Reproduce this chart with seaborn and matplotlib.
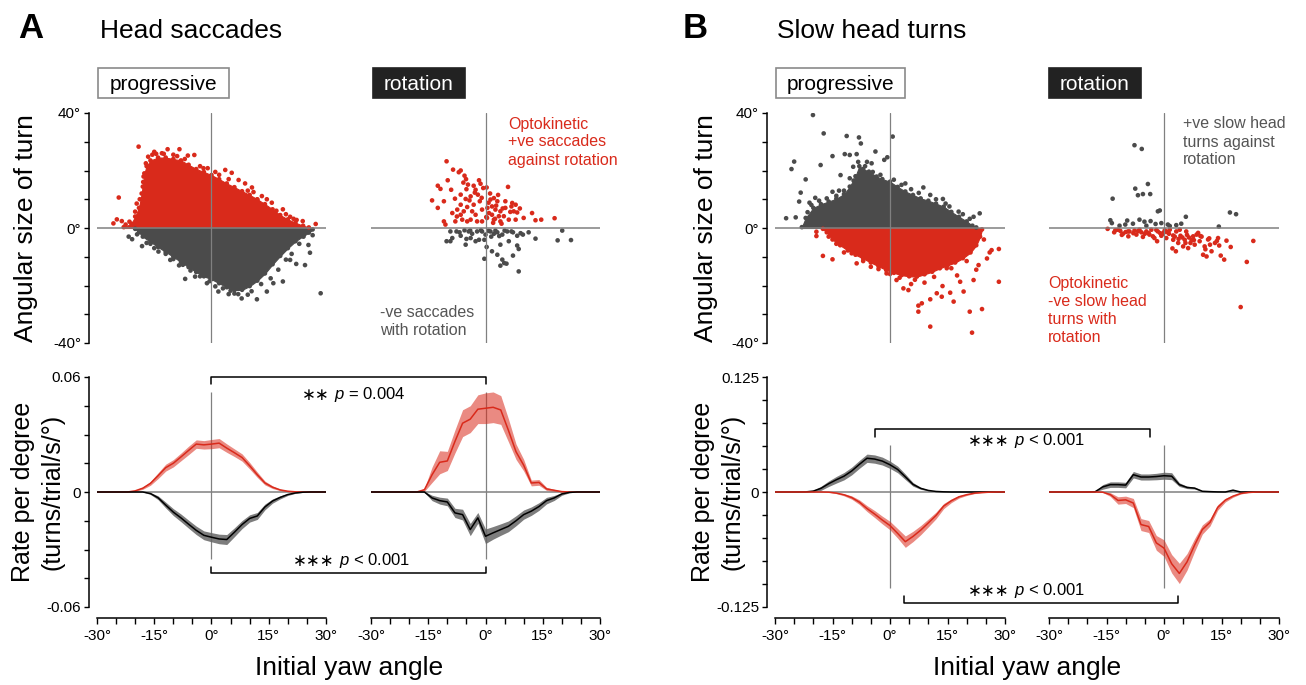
import numpy as np
import pandas as pd
import seaborn as sns
import matplotlib.pyplot as plt
from matplotlib.lines import Line2D
from matplotlib.patches import Rectangle

# ---------------- data ----------------
yaw_bins = list(range(-30, 31, 2))

# rate per degree, mean and sem (A: head saccades)
a_prog_pos = [0, 0, 0, 0, 0, 0.0006, 0.002, 0.0045, 0.0085, 0.0127, 0.015, 0.0183, 0.0217, 0.025, 0.0246,
              0.025, 0.0255, 0.0229, 0.0205, 0.018, 0.0137, 0.009, 0.0047, 0.0025, 0.0011, 0.0004, 0.0001, 0, 0, 0, 0]
a_prog_pos_sem = [0, 0, 0, 0, 0, 0.0003, 0.0006, 0.001, 0.0015, 0.0018, 0.0019, 0.002, 0.0022, 0.0022, 0.0022,
                  0.0024, 0.0024, 0.0022, 0.002, 0.0019, 0.0017, 0.0014, 0.001, 0.0007, 0.0004, 0.0002, 0.0001, 0, 0, 0, 0]
a_prog_neg = [0, 0, 0, 0, 0, 0, 0, -0.0008, -0.003, -0.0068, -0.0105, -0.0135, -0.0168, -0.02, -0.0226,
              -0.0236, -0.0245, -0.0248, -0.021, -0.017, -0.0138, -0.0125, -0.0078, -0.0047, -0.0028, -0.0013,
              -0.0005, -0.0001, 0, 0, 0]
a_prog_neg_sem = [0, 0, 0, 0, 0, 0, 0, 0.0005, 0.001, 0.0015, 0.0018, 0.002, 0.0021, 0.0022, 0.0023,
                  0.0024, 0.0025, 0.0026, 0.0023, 0.0021, 0.0019, 0.0018, 0.0015, 0.0011, 0.0008, 0.0005,
                  0.0002, 0.0001, 0, 0, 0]
a_rot_pos = [0, 0, 0, 0, 0, 0, 0, 0.0012, 0.009, 0.0155, 0.0162, 0.0264, 0.0359, 0.038, 0.0432,
             0.0437, 0.0442, 0.0428, 0.0322, 0.021, 0.014, 0.0047, 0.005, 0.0016, 0.0009, 0.0002, 0, 0, 0, 0, 0]
a_rot_pos_sem = [0, 0, 0, 0, 0, 0, 0, 0.0008, 0.004, 0.006, 0.005, 0.006, 0.007, 0.007, 0.0075,
                 0.008, 0.008, 0.0075, 0.006, 0.004, 0.003, 0.0015, 0.0015, 0.0008, 0.0005, 0.0002, 0, 0, 0, 0, 0]
a_rot_neg = [0, 0, 0, 0, 0, 0, 0, 0, -0.0031, -0.0045, -0.0052, -0.0109, -0.0118, -0.0196, -0.0135,
             -0.0231, -0.0213, -0.0196, -0.0179, -0.015, -0.0118, -0.01, -0.0076, -0.0045, -0.0031, -0.001,
             -0.0002, 0, 0, 0, 0]
a_rot_neg_sem = [0, 0, 0, 0, 0, 0, 0, 0.0003, 0.0014, 0.0018, 0.002, 0.0024, 0.0028, 0.0032, 0.0028,
                 0.0038, 0.0033, 0.003, 0.0028, 0.0026, 0.0024, 0.0022, 0.002, 0.0017, 0.0013, 0.0007,
                 0.0002, 0, 0, 0, 0]

# B: slow head turns
b_prog_pos = [0, 0, 0, 0, 0.0001, 0.001, 0.004, 0.009, 0.0133, 0.0172, 0.0228, 0.03, 0.0367, 0.0358, 0.0336,
              0.0296, 0.0245, 0.0165, 0.0083, 0.004, 0.0017, 0.0006, 0.0002, 0, 0, 0, 0, 0, 0, 0, 0]
b_prog_pos_sem = [0, 0, 0, 0, 0.0002, 0.001, 0.0022, 0.003, 0.0036, 0.004, 0.0042, 0.0043, 0.0045, 0.0045,
                  0.0043, 0.004, 0.0036, 0.003, 0.002, 0.0011, 0.0005, 0.0002, 0.0001, 0, 0, 0, 0, 0, 0, 0, 0]
b_prog_neg = [0, 0, 0, 0, 0, 0, 0, -0.0002, -0.0012, -0.003, -0.006, -0.011, -0.018, -0.024, -0.0305,
              -0.0365, -0.045, -0.054, -0.0483, -0.0415, -0.0336, -0.0255, -0.0153, -0.0095, -0.0052,
              -0.0029, -0.0013, -0.0006, -0.0002, 0, 0]
b_prog_neg_sem = [0, 0, 0, 0, 0, 0, 0, 0.0001, 0.0006, 0.0012, 0.0018, 0.0025, 0.0032, 0.0038, 0.0042,
                  0.0046, 0.0052, 0.0062, 0.0056, 0.005, 0.0043, 0.0036, 0.0028, 0.002, 0.0014,
                  0.0009, 0.0005, 0.0002, 0.0001, 0, 0]
b_rot_pos = [0, 0, 0, 0, 0, 0, 0.0002, 0.0055, 0.008, 0.008, 0.0075, 0.0188, 0.0163, 0.0163, 0.0168,
             0.0177, 0.0172, 0.008, 0.005, 0.0042, 0.0008, 0.0004, 0.0001, 0, 0.002, 0, 0, 0, 0, 0, 0]
b_rot_pos_sem = [0, 0, 0, 0, 0, 0, 0.0003, 0.0025, 0.003, 0.003, 0.003, 0.0035, 0.0033, 0.0033, 0.0035,
                 0.0038, 0.0038, 0.002, 0.0013, 0.001, 0.0005, 0.0003, 0.0001, 0, 0.0008, 0, 0, 0, 0, 0, 0]
b_rot_neg = [0, 0, 0, 0, 0, 0, 0, -0.0002, -0.0028, -0.0092, -0.0085, -0.012, -0.0354, -0.0375, -0.0553,
             -0.061, -0.078, -0.0885, -0.076, -0.0575, -0.0408, -0.033, -0.0168, -0.0088, -0.0045,
             -0.0016, -0.0005, -0.0001, 0, 0, 0]
b_rot_neg_sem = [0, 0, 0, 0, 0, 0, 0, 0.0002, 0.002, 0.004, 0.004, 0.005, 0.0065, 0.0065, 0.008,
                 0.009, 0.01, 0.011, 0.009, 0.007, 0.005, 0.004, 0.003, 0.002, 0.0012,
                 0.0006, 0.0002, 0.0001, 0, 0, 0]

# dense scatter clouds (progressive): outline of the solid core
a_up_x = [-23, -21, -20, -19, -18.3, -17.6, -17, -16, -14, -12, -10, -8, -6, -4, -2, 0, 2, 4, 6, 8, 10,
          12, 14, 16, 18, 20, 22, 24, 25.5]
a_up_y = [0.3, 1.5, 4, 7, 12, 19, 21.5, 23.5, 24.5, 24.5, 24, 23.5, 22, 20.5, 19.5, 18.4, 17, 15.5, 14.2,
          12.8, 11.5, 10, 8.3, 6.5, 4.5, 3, 1.8, 0.8, 0.2]
a_lo_x = [-20, -19, -18, -16, -14, -12, -10, -8, -6, -4, -2, 0, 2, 4, 6, 8, 10, 12, 14, 16, 18, 20, 22,
          24, 25.5, 26.5]
a_lo_y = [-0.3, -1.5, -3, -4.8, -6.6, -8.3, -10, -11.8, -13.6, -15.3, -16.8, -17.8, -19.2, -20.6, -21.6,
          -21.5, -20.2, -18.3, -15.8, -12.6, -9.7, -7, -4.6, -2.8, -1.6, -0.5]
b_up_x = [-23, -22, -20, -18, -16, -14, -12, -10.5, -9, -8, -7, -5.5, -3.5, -2, 0, 2, 4, 6, 8, 10, 12,
          14, 16, 18, 20, 21.5, 22.5]
b_up_y = [0.3, 3.5, 7, 8.3, 9.2, 10.2, 11.8, 14.4, 18, 21.5, 20.5, 19.6, 17.9, 17, 16.1, 14.3, 12.7, 11.5,
          10.3, 9.5, 8.5, 7.4, 5.6, 3.9, 2.3, 0.8, 0.2]
b_lo_x = [-17.5, -16.5, -15, -13, -11, -9, -7, -5, -3, -1, 1, 3, 5, 7, 9, 11, 13, 15, 17, 19, 21, 22.5,
          23.5, 24]
b_lo_y = [-0.3, -1.5, -4, -6, -7.8, -9.3, -10.6, -12, -13.3, -14.6, -15.6, -16.4, -16.8, -16.9, -16.1,
          -15.2, -14, -13, -12, -10.5, -8.5, -6, -3, -0.5]

# individual turns visible outside the solid core
a_prog_red_x = [-19.1, -24.3, -25.7, -24.8, -23.5, -13, -11.5, -8.4, -6.2, -4.5, -2.1, -1, 3.6, 5.3, 7.1,
                8.8, 10.6, 13.2, 15.8, 18.7, 20.6, 22.3, 23.9, 27.3, -17.8, -18, -20, -18.2, -15.5, -10,
                -14.5, 1, 9.5, 12, 17, 19.5, -17.2, -16.6, -15, -12.5, -9, -7, -3, 2, 4.5, 11, 14.5,
                21.5, -21.5, -22.5, -18.8, -17.9, -19.6]
a_prog_red_y = [28.3, 10.6, 1.6, 3, 2.4, 26, 27.4, 27.4, 25.2, 25.4, 20.8, 20.8, 20.2, 19.2, 16.7, 15.5,
                14.1, 11.1, 8.8, 6.5, 3.9, 2.8, 2.4, 1.4, 17.9, 14.4, 5.7, 7.7, 25.5, 25.5, 25.8, 19.5,
                13, 9.8, 6, 4.8, 22.5, 24.8, 26.5, 25.8, 25, 24, 21.5, 18.5, 17, 12.5, 10, 3.2, 2.2, 1.2,
                10, 16, 8.5]
a_prog_gray_x = [-21.7, -20.8, -18.2, -13.9, -10.8, -6.9, -4.3, -1.2, 1.8, 4.5, 7.9, 11.9, 14.5, 16.2,
                 18.7, 20.6, 22.2, 24.5, 25.8, 25.4, 28.6, 24.1, -19.5, -16, -8.5, 3, 6, 9.5, 13, 17.5,
                 21, 23, -17, -15, -12, -10, -7.5, -5.5, -3, -0.5, 1, 5, 7, 10.5, 15.5, 19.5, 26.5]
a_prog_gray_y = [-3, -3.9, -6.3, -8.2, -11.1, -17.7, -16.9, -19.2, -22.1, -23, -24.5, -24.8, -22.1, -19.2,
                 -18.6, -11.1, -12.5, -12.9, -8.6, -5.9, -22.7, -3, -2.2, -5.5, -13, -21, -22.8, -23.2,
                 -19.5, -14.5, -9, -5.5, -5.2, -7, -9, -10.8, -12.8, -14.8, -16.8, -18.5, -20.3,
                 -21.8, -23, -22, -17.5, -11, -2.5]
a_rot_red_x = [-10.2, -8.5, -7, -6.5, -5.5, -5.1, -5.8, -4.6, -9.9, -9, -11.8, -12.5, -10.9, -14, -12.5,
               -1.7, -1.3, -3.1, -2.6, -0.6, 0.3, 5.9, -6.5, -5.2, -3.9, -2, -6.5, -7.4, -4.8, -3.1, -1.5,
               -0.9, -2.6, -3.9, -6.1, -7.9, -10.9, -10.5, 1.3, 2.2, 3.1, 1.7, 0.9, 2.6, 3.9, 5.2, 5.2, 7,
               7.9, 7.4, 8.3, 10, 12.2, 13.1, 14.6, 18.1, 0.4, 2.2, 3.9, 6.1, 7.9, -0.9, -2.2, -4.8, -6.5,
               -8.7, -5.7, 3.5, 1.7, 4.8, -1, 0.8, 2.8, 4.5, 6.5, -3.5, -8, 1.2, 3.3, 6.8, 9, -2.8, -5,
               0.2, 2, 4.2, -7.5, -4.2, 0.5, 2.5]
a_rot_red_y = [23.2, 20.3, 19.4, 20, 18.2, 17, 15.8, 15.1, 16.6, 13.3, 13.6, 14.7, 9.3, 9.6, 7, 16.6,
               15.4, 14.7, 13.3, 13.9, 14.1, 14.3, 11.6, 10.1, 11, 11.6, 8.1, 6.4, 7.3, 8.1, 9.3, 6.4,
               4.6, 2.9, 2.9, 2.3, 2.3, 1.2, 9.9, 10.4, 9.3, 7.5, 5.2, 6.4, 5.8, 9.3, 7, 8.7, 8.1, 5.8,
               5.4, 3.5, 5.2, 2.7, 2.9, 3.4, 3.5, 2.9, 2.3, 2.9, 2.9, 2.3, 2.3, 2.3, 4.6, 5.2, 5.8, 4.1,
               4.6, 4.1, 10.5, 8.8, 7.8, 6.8, 5.6, 5.8, 10.2, 12, 11.5, 7.5, 6.8, 12.3, 13.5, 3.8, 1.8,
               1.5, 4, 9.6, 7, 3.2]
a_rot_gray_x = [-9.2, -7.6, -10.2, -9.2, -8.7, -6.5, -5.5, -4.4, -5, -5.2, -3.5, -2.6, -1.7, -0.9, 0,
                -0.3, 0.3, -0.3, 1.3, 2.2, 3.1, 1.7, 3.1, 3.9, 4.4, 3.9, 4.9, 5.5, 4.4, 5.7, 6.1, 7.2,
                8.3, 8.7, 8.3, 7.2, 9.8, 11.3, 13.1, 8.7, 20.1, 18.9, 22.4, -2.2, -3.9, -1.2, 0.8, 2.6,
                5, 6.8, -6.8, -4, 1.5, 3.6, 9.2]
a_rot_gray_y = [-1.2, -1.2, -4.6, -4.6, -3.5, -2.7, -0.8, -1.2, -3.8, -5.8, -2, -4.6, -4.1, -1.2, -2.3,
                -4.1, -6.6, -10.7, -1.2, -2, -1.5, -8.1, -9.3, -5.8, -11, -13.1, -12.2, -12.4, -2.3,
                -1.2, -4.6, -1.5, -2.7, -7.3, -6.1, -9.6, -2.3, -1.5, -3.7, -15.1, -0.9, -4.3, -4.2,
                -1.2, -3.5, -0.8, -1, -0.9, -0.9, -1.2, -1.5, -0.9, -3, -2.8, -1.8]
b_prog_gray_x = [-20.1, -17.3, -11.3, -8.1, 0.7, -7.6, -15, -10.5, -8.7, -3.8, -0.7, -1.5, -25, -25.7,
                 -18.1, -11.8, -12.9, -22, -23.3, -23.7, -27.1, -24.6, 8.7, 13.8, 17.9, 21.8, 23.4,
                 -15, -13.3, -10.5, -9.6, -4.8, -19.5, -21, -6, 4, 10.5, 15.5, -21.5, -20.5, -18.5,
                 -16.5, -14, -12, -9.5, -8.3, -6.5, -4.5, -2.5, 1, 3, 5.5, 7.5, 12, 14.5, 19, 20.8]
b_prog_gray_y = [39.3, 32.9, 32, 31.5, 31.8, 29.4, 25, 25.4, 25.7, 26.6, 24.6, 23.7, 23.1, 20.5, 21.9,
                 25.7, 18.4, 16.9, 12.3, 9.2, 3.4, 3.7, 14.1, 10.1, 5.7, 3.9, 5.1, 12.6, 13, 17.3, 21.3,
                 22.5, 10.5, 8.8, 23, 15.5, 11.5, 7.5, 5.5, 8, 9.5, 10.3, 11.2, 13, 16.5, 23, 21.5,
                 19.5, 18.5, 16.8, 15, 13.5, 12.2, 10, 8.5, 4.8, 3.2]
b_prog_red_x = [-19.2, -19.2, -17.5, -15, -8.7, -0.9, 1.7, 3.5, 4.8, 7.4, 8.3, 7.4, 10.5, 10.5, 12.2,
                13.5, 13.7, 15.7, 16.6, 19.2, 20.8, 21.4, 24, 28.4, 26.5, 25.3, 28.4, 21.8, 18.3, 14.8,
                23.1, -12, -5, 5.5, 9, 17.5, 22.5, 26, -16, -14, -10, -7, -3, 0, 2.5, 6.5, 11.5, 16,
                20, 24.5]
b_prog_red_y = [-1.3, -2.8, -9.7, -10.9, -12.3, -15.8, -18.1, -21, -21.6, -27, -26.2, -29.1, -24.8,
                -34.3, -22.7, -23.9, -20.2, -22.5, -25.6, -22.1, -29.1, -36.4, -28.2, -7.3, -7.7, -10.6,
                -18.7, -18.1, -18.7, -14, -12.9, -8.5, -13.5, -19.5, -19, -16.5, -14.5, -8.5, -3,
                -5.5, -8.8, -11.5, -14.3, -16, -17.3, -18, -17, -14, -11.5, -4]
b_rot_gray_x = [-7.7, -5.8, -4.2, -7.5, -6.8, -5.5, -3.6, -13.4, -1.6, -1.1, 17.2, 18.8, 14.3, 5.7,
                -14, -13.6, -11.6, -9.6, -8.1, -6.4, -5.1, -3.5, -2.2, -0.7, 1.5, 3.2, 4.5, -10.1, -4.6, 1]
b_rot_gray_y = [28.8, 27.5, 15.3, 13.7, 11.4, 11.8, 11.8, 10.2, 5.8, 6.1, 5.4, 4.8, 0.5, 3.9,
                2.7, 1.7, 0.8, 2.6, 1.5, 2.9, 2.2, 2.4, 1.4, 1.7, 0.7, 1, 1.5, 1.2, 0.8, 1.2]
b_rot_red_x = [-14.7, -12.7, -11.4, -10.7, -9.3, -9, -7.7, -7.2, -5.9, -5.5, -4.6, -3.8, -2.9, -1.8,
               -1.6, -0.7, 0.2, 0.6, 1.3, 2.2, 2.4, 3.1, 3.2, 3.7, 4.3, 5, 5.4, 5.8, 6.3, 6.9, 7.6, 8,
               8.9, 9.3, 10.2, 10.6, 11.1, 12, 12.4, 13.3, 14.1, 14.4, 14.8, 15.7, 16.3, 17.4, 21.6,
               23.3, 20, 8.5, 4.1, 1.5, -3.3, -6.4, -9.4, -13, -11, -8, -4, -1, 1, 2.8, 4.8, 6.5, 9.8,
               11.5, 13.8, 0, -2.5, 7.2, -12, -10, -6.8, -5, -2, 0.8, 3.8, 6, 9.5, 11.8, -0.3, 2.4,
               5.6, 7.8, 10.8]
b_rot_red_y = [-0.3, -0.8, -1, -2, -2.9, -1.2, -0.9, -2.3, -1.5, -3.1, -1.2, -2.3, -2.9, -4.6, -1.2,
               -2.7, -0.8, -3.5, -2, -7.1, -4.1, -8.1, -1.2, -5.2, -2.7, -6.4, -4.1, -1.2, -7, -5.2,
               -2.9, -5.8, -1.7, -4.6, -9.3, -6.4, -9.9, -5.8, -8.1, -5.2, -3.5, -6.1, -9.6, -11,
               -4.4, -6.6, -11.8, -4.5, -27.5, -2.3, -0.6, -0.6, -0.6, -0.6, -1.2, -1.5, -2.4, -1.8,
               -1.8, -1.8, -1.5, -3, -3.3, -3.3, -3, -4, -4.5, -1.5, -3.5, -4.2, -0.6, -1.4, -1.1,
               -2, -0.7, -1.3, -3.8, -2.4, -2.8, -3.6, -2, -2.6, -5.2, -4.2, -7.4]

# ---------------- style ----------------
sns.set_style('ticks')
plt.rcParams['font.family'] = ['Liberation Sans', 'DejaVu Sans']
plt.rcParams['axes.unicode_minus'] = False
plt.rcParams['mathtext.fontset'] = 'custom'
plt.rcParams['mathtext.rm'] = 'Liberation Sans'
plt.rcParams['mathtext.it'] = 'Liberation Sans:italic'
for k in ['text.color', 'axes.labelcolor', 'xtick.color', 'ytick.color', 'axes.edgecolor']:
    plt.rcParams[k] = 'black'

RED = '#d92a1b'
DARK = '#4b4b4b'
AXGRAY = '#808080'
W, H = 1306, 685

fig = plt.figure(figsize=(W / 100, H / 100), dpi=100)


def fx(px):
    return px / W


def fy(py):
    return 1 - py / H


def px_axes(x0, y0, x1, y1):
    return fig.add_axes([fx(x0), fy(y1), (x1 - x0) / W, (y1 - y0) / H])


def style_scatter_axes(ax, with_y):
    ax.set_xlim(-30, 30)
    ax.set_ylim(-40, 40)
    ax.axhline(0, color=AXGRAY, lw=1.1, zorder=5)
    ax.axvline(0, color=AXGRAY, lw=0.9, zorder=5)
    ax.set_facecolor('none')
    for s in ['top', 'right', 'bottom']:
        ax.spines[s].set_visible(False)
    ax.set_xticks([])
    ax.set_xlabel('')
    ax.set_ylabel('')
    if with_y:
        ax.spines['left'].set_position(('outward', 6))
        ax.spines['left'].set_linewidth(1.1)
        ax.set_yticks(list(range(-40, 41, 10)))
        ax.set_yticklabels(['-40°', '', '', '', '0°', '', '', '', '40°'])
        ax.tick_params(axis='y', length=3.5, width=1, pad=2, labelsize=11)
    else:
        ax.spines['left'].set_visible(False)
        ax.set_yticks([])


def style_rate_axes(ax, lim, step, lab, with_y, vline):
    ax.set_xlim(-30, 30)
    ax.set_ylim(-lim, lim)
    ax.axhline(0, color=AXGRAY, lw=1.1, zorder=1)
    ax.vlines(0, vline[0], vline[1], color=AXGRAY, lw=0.9, zorder=1)
    ax.set_facecolor('none')
    ax.spines['top'].set_visible(False)
    ax.spines['right'].set_visible(False)
    ax.spines['bottom'].set_position(('outward', 8))
    ax.spines['bottom'].set_linewidth(1.1)
    ax.set_xticks(list(range(-30, 31, 5)))
    ax.set_xticklabels(['-30°', '', '', '-15°', '', '', '0°', '', '', '15°', '', '', '30°'])
    ax.tick_params(axis='x', length=4, width=1, pad=4, labelsize=11)
    ax.set_xlabel('')
    ax.set_ylabel('')
    if with_y:
        ax.spines['left'].set_position(('outward', 6))
        ax.spines['left'].set_linewidth(1.1)
        ticks = list(np.arange(-lim, lim + step / 2, step))
        labels = [''] * len(ticks)
        labels[0], labels[len(ticks) // 2], labels[-1] = '-' + lab, '0', lab
        ax.set_yticks(ticks)
        ax.set_yticklabels(labels)
        ax.tick_params(axis='y', length=3.5, width=1, pad=2, labelsize=11)
    else:
        ax.spines['left'].set_visible(False)
        ax.set_yticks([])


def rate_curve(ax, mean, sem, line_color, band_color, band_alpha):
    m = np.array(mean)
    e = np.array(sem)
    ax.fill_between(yaw_bins, m - e, m + e, color=band_color, alpha=band_alpha, lw=0, zorder=2)
    sns.lineplot(x=yaw_bins, y=m, ax=ax, color=line_color, lw=1.1, errorbar=None, zorder=3)


def dots(ax, x, y, color):
    sns.scatterplot(x=x, y=y, ax=ax, color=color, s=11, linewidth=0, edgecolor='none', zorder=3)


def cloud(ax, x, y, color):
    ax.fill_between(x, 0, y, color=color, lw=0.8, edgecolor=color, zorder=2)
    dots(ax, x, y, color)


def bracket(ax1, x1, ax2, x2, y, tip):
    inv = fig.transFigure.inverted()
    p1 = inv.transform(ax1.transData.transform((x1, y)))
    p2 = inv.transform(ax2.transData.transform((x2, y)))
    q1 = inv.transform(ax1.transData.transform((x1, tip)))
    q2 = inv.transform(ax2.transData.transform((x2, tip)))
    fig.add_artist(Line2D([q1[0], p1[0], p2[0], q2[0]], [q1[1], p1[1], p2[1], q2[1]],
                          transform=fig.transFigure, color='black', lw=1.1))


def p_label(ax, x_left, y, stars, rest):
    st = fig.text(fx(x_left), fy(y), stars, ha='left', va='center', fontsize=12, family=['DejaVu Sans'])
    ax.annotate(rest, xy=(1, 0.5), xycoords=st, xytext=(3, 0), textcoords='offset points',
                ha='left', va='center', fontsize=12, annotation_clip=False)


# ---------------- panel A ----------------
ax = px_axes(97, 113, 326, 343)
style_scatter_axes(ax, True)
cloud(ax, a_up_x, a_up_y, RED)
cloud(ax, a_lo_x, a_lo_y, DARK)
dots(ax, a_prog_red_x, a_prog_red_y, RED)
dots(ax, a_prog_gray_x, a_prog_gray_y, DARK)

ax = px_axes(371, 113, 600, 343)
style_scatter_axes(ax, False)
dots(ax, a_rot_red_x, a_rot_red_y, RED)
dots(ax, a_rot_gray_x, a_rot_gray_y, DARK)

axA1 = px_axes(97, 377, 326, 607)
rate_curve(axA1, a_prog_pos, a_prog_pos_sem, RED, RED, 0.55)
rate_curve(axA1, a_prog_neg, a_prog_neg_sem, 'black', '#666666', 0.85)
style_rate_axes(axA1, 0.06, 0.015, '0.06', True, (-0.035, 0.052))

axA2 = px_axes(371, 377, 600, 607)
rate_curve(axA2, a_rot_pos, a_rot_pos_sem, RED, RED, 0.55)
rate_curve(axA2, a_rot_neg, a_rot_neg_sem, 'black', '#666666', 0.85)
style_rate_axes(axA2, 0.06, 0.015, '0.06', False, (-0.035, 0.052))

# ---------------- panel B ----------------
ax = px_axes(775, 113, 1005, 343)
style_scatter_axes(ax, True)
cloud(ax, b_up_x, b_up_y, DARK)
cloud(ax, b_lo_x, b_lo_y, RED)
dots(ax, b_prog_gray_x, b_prog_gray_y, DARK)
dots(ax, b_prog_red_x, b_prog_red_y, RED)

ax = px_axes(1049, 113, 1279, 343)
style_scatter_axes(ax, False)
dots(ax, b_rot_gray_x, b_rot_gray_y, DARK)
dots(ax, b_rot_red_x, b_rot_red_y, RED)

axB1 = px_axes(775, 377, 1005, 607)
rate_curve(axB1, b_prog_pos, b_prog_pos_sem, 'black', '#666666', 0.85)
rate_curve(axB1, b_prog_neg, b_prog_neg_sem, RED, RED, 0.55)
style_rate_axes(axB1, 0.125, 0.025, '0.125', True, (-0.104, 0.051))

axB2 = px_axes(1049, 377, 1279, 607)
rate_curve(axB2, b_rot_pos, b_rot_pos_sem, 'black', '#666666', 0.85)
rate_curve(axB2, b_rot_neg, b_rot_neg_sem, RED, RED, 0.55)
style_rate_axes(axB2, 0.125, 0.025, '0.125', False, (-0.104, 0.051))

# significance brackets
bracket(axA1, 0, axA2, 0, 0.06, 0.0563)
bracket(axA1, 0, axA2, 0, -0.0423, -0.039)
bracket(axB1, -4, axB2, -3.6, 0.0685, 0.06)
bracket(axB1, 3.6, axB2, 3.6, -0.1207, -0.113)

p_label(axA1, 302, 395, '∗∗', '$\\mathit{p}$ = 0.004')
p_label(axA1, 293, 561, '∗∗∗', '$\\mathit{p}$ < 0.001')
p_label(axB1, 968, 441, '∗∗∗', '$\\mathit{p}$ < 0.001')
p_label(axB1, 968, 591, '∗∗∗', '$\\mathit{p}$ < 0.001')

# ---------------- titles, labels, boxes ----------------
fig.text(fx(18), fy(38), 'A', fontsize=25, fontweight='bold', va='baseline')
fig.text(fx(100), fy(38), 'Head saccades', fontsize=19, va='baseline')
fig.text(fx(683), fy(38), 'B', fontsize=25, fontweight='bold', va='baseline')
fig.text(fx(777), fy(38), 'Slow head turns', fontsize=19, va='baseline')


def label_box(x0, x1, text, dark):
    fig.add_artist(Rectangle((fx(x0), fy(98)), (x1 - x0) / W, 30 / H, transform=fig.transFigure,
                             facecolor='#222222' if dark else 'white',
                             edgecolor='#222222' if dark else '#8a8a8a', lw=1.2))
    fig.text(fx((x0 + x1) / 2), fy(84), text, ha='center', va='center', fontsize=15,
             color='white' if dark else 'black')


label_box(98, 229, 'progressive', False)
label_box(373, 465, 'rotation', True)
label_box(776, 905, 'progressive', False)
label_box(1049, 1141, 'rotation', True)

for x_spine in (88, 768):
    fig.text(fx(x_spine - 62), fy(228), 'Angular size of turn', rotation=90, ha='center', va='center',
             fontsize=19)
    fig.text(fx(x_spine - 50), fy(492), 'Rate per degree\n(turns/trial/s/°)', rotation=90,
             ha='center', va='center', fontsize=18, linespacing=1.3)

fig.text(fx(349), fy(668), 'Initial yaw angle', ha='center', va='center', fontsize=19)
fig.text(fx(1027), fy(668), 'Initial yaw angle', ha='center', va='center', fontsize=19)

fig.text(fx(508), fy(142), 'Optokinetic\n+ve saccades\nagainst rotation', color=RED, fontsize=11.5,
         ha='left', va='center', linespacing=1.25)
fig.text(fx(380), fy(321.5), '-ve saccades\nwith rotation', color='#555555', fontsize=11.5,
         ha='left', va='center', linespacing=1.25)
fig.text(fx(1183), fy(142), '+ve slow head\nturns against\nrotation', color='#555555', fontsize=11.5,
         ha='left', va='center', linespacing=1.25)
fig.text(fx(1048), fy(310.5), 'Optokinetic\n-ve slow head\nturns with\nrotation', color=RED, fontsize=11.5,
         ha='left', va='center', linespacing=1.25)

fig.savefig('out.png', dpi=100)
